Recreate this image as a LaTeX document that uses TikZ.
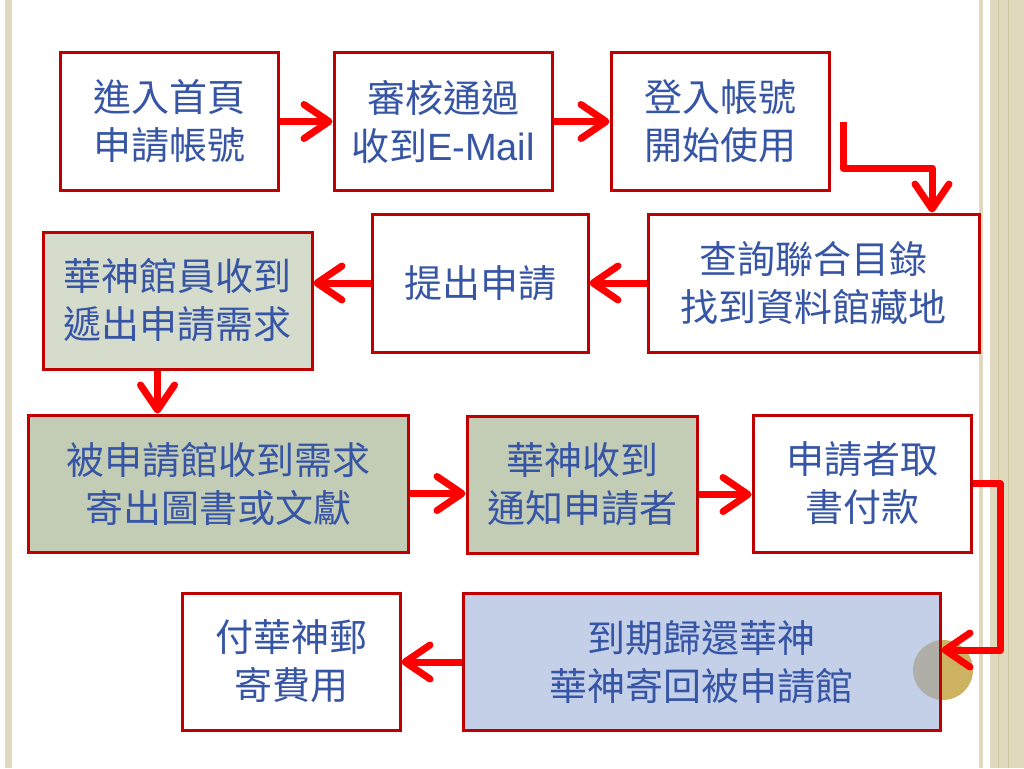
\documentclass[tikz,border=0pt]{standalone}
\usepackage{fontspec}
\setmainfont{Liberation Sans}
\newfontfamily\cjk{Noto Sans CJK TC}
\newfontfamily\lat{Liberation Sans}
\usetikzlibrary{arrows.meta}
\definecolor{boxred}{RGB}{192,0,0}
\definecolor{txtblue}{RGB}{55,85,165}
\definecolor{greenA}{RGB}{214,220,204}
\definecolor{greenB}{RGB}{195,204,181}
\definecolor{blueF}{RGB}{155,174,217}
\definecolor{beige}{RGB}{224,217,190}
\definecolor{beigeD}{RGB}{206,196,158}
\definecolor{gold}{RGB}{205,178,98}
\begin{document}
\begin{tikzpicture}[x=1pt,y=-1pt,
  box/.style={draw=boxred, line width=3pt, fill=white, inner sep=0pt, align=center,
    text=txtblue, font=\cjk\fontsize{38}{48}\selectfont},
  arr/.style={draw=red, line width=7pt, line join=round,
    -{Straight Barb[round,length=25pt,width=34pt,line width=7pt]}}]
\fill[white] (0,0) rectangle (1024,768);
\useasboundingbox (0,0) rectangle (1024,768);
% frame decorations
\fill[beige] (5,0) rectangle (12,768);
\fill[beige] (979,0) rectangle (983,768);
\fill[beige] (990,0) rectangle (1024,768);
\draw[beigeD, line width=1pt] (998,0) -- (998,768);
\draw[beigeD, line width=1pt] (1008,0) -- (1008,768);
\fill[gold] (943,670) circle (30);
% boxes
\node[box, minimum width=218pt, minimum height=137pt] (B1) at (169,121.5) {進入首頁\\申請帳號};
\node[box, minimum width=218pt, minimum height=137pt] (B2) at (443,121.5) {審核通過\\收到{\lat E-Mail}};
\node[box, minimum width=218pt, minimum height=137pt] (B3) at (720,121.5) {登入帳號\\開始使用};
\node[box, minimum width=331pt, minimum height=138pt] (B4) at (813.5,283) {查詢聯合目錄\\找到資料館藏地};
\node[box, minimum width=216pt, minimum height=138pt] (B5) at (480,283) {提出申請};
\node[box, fill=greenA, minimum width=269pt, minimum height=137pt] (B6) at (177.5,300.5) {華神館員收到\\遞出申請需求};
\node[box, fill=greenB, minimum width=380pt, minimum height=137pt] (B7) at (218,483.5) {被申請館收到需求\\寄出圖書或文獻};
\node[box, fill=greenB, minimum width=230pt, minimum height=137pt] (B8) at (582,484.5) {華神收到\\通知申請者};
\node[box, minimum width=218pt, minimum height=137pt] (B9) at (862,483.5) {申請者取\\書付款};
\node[box, fill=blueF, fill opacity=0.58, text opacity=1, minimum width=477pt, minimum height=137pt] (B10) at (701.5,662) {到期歸還華神\\華神寄回被申請館};
\node[box, minimum width=218pt, minimum height=137pt] (B11) at (291,661.5) {付華神郵\\寄費用};
% connector helper coordinates
\coordinate (e1) at (843,122);
\coordinate (e2) at (932,168);
\coordinate (e3) at (1000,650);
% connectors
\draw[arr] (B1.east) -- (B2.west);
\draw[arr] (B2.east) -- (B3.west);
\draw[arr] (e1) |- (e2) -- (e2 |- B4.north);
\draw[arr] (B4.west) -- (B5.east);
\draw[arr] (B5.west) -- (B5.west -| B6.east);
\draw[arr] ([xshift=-20pt]B6.south) -- ([xshift=-20pt]B6.south |- B7.north);
\draw[arr] ([yshift=-10pt]B7.east) -- ([yshift=-10pt]B7.east -| B8.west);
\draw[arr] ([yshift=-10pt]B8.east) -- ([yshift=-10pt]B8.east -| B9.west);
\draw[arr] (B9.east) -| (e3) -- (e3 -| B10.east);
\draw[arr] (B10.west) -- (B10.west -| B11.east);
\end{tikzpicture}
\end{document}
